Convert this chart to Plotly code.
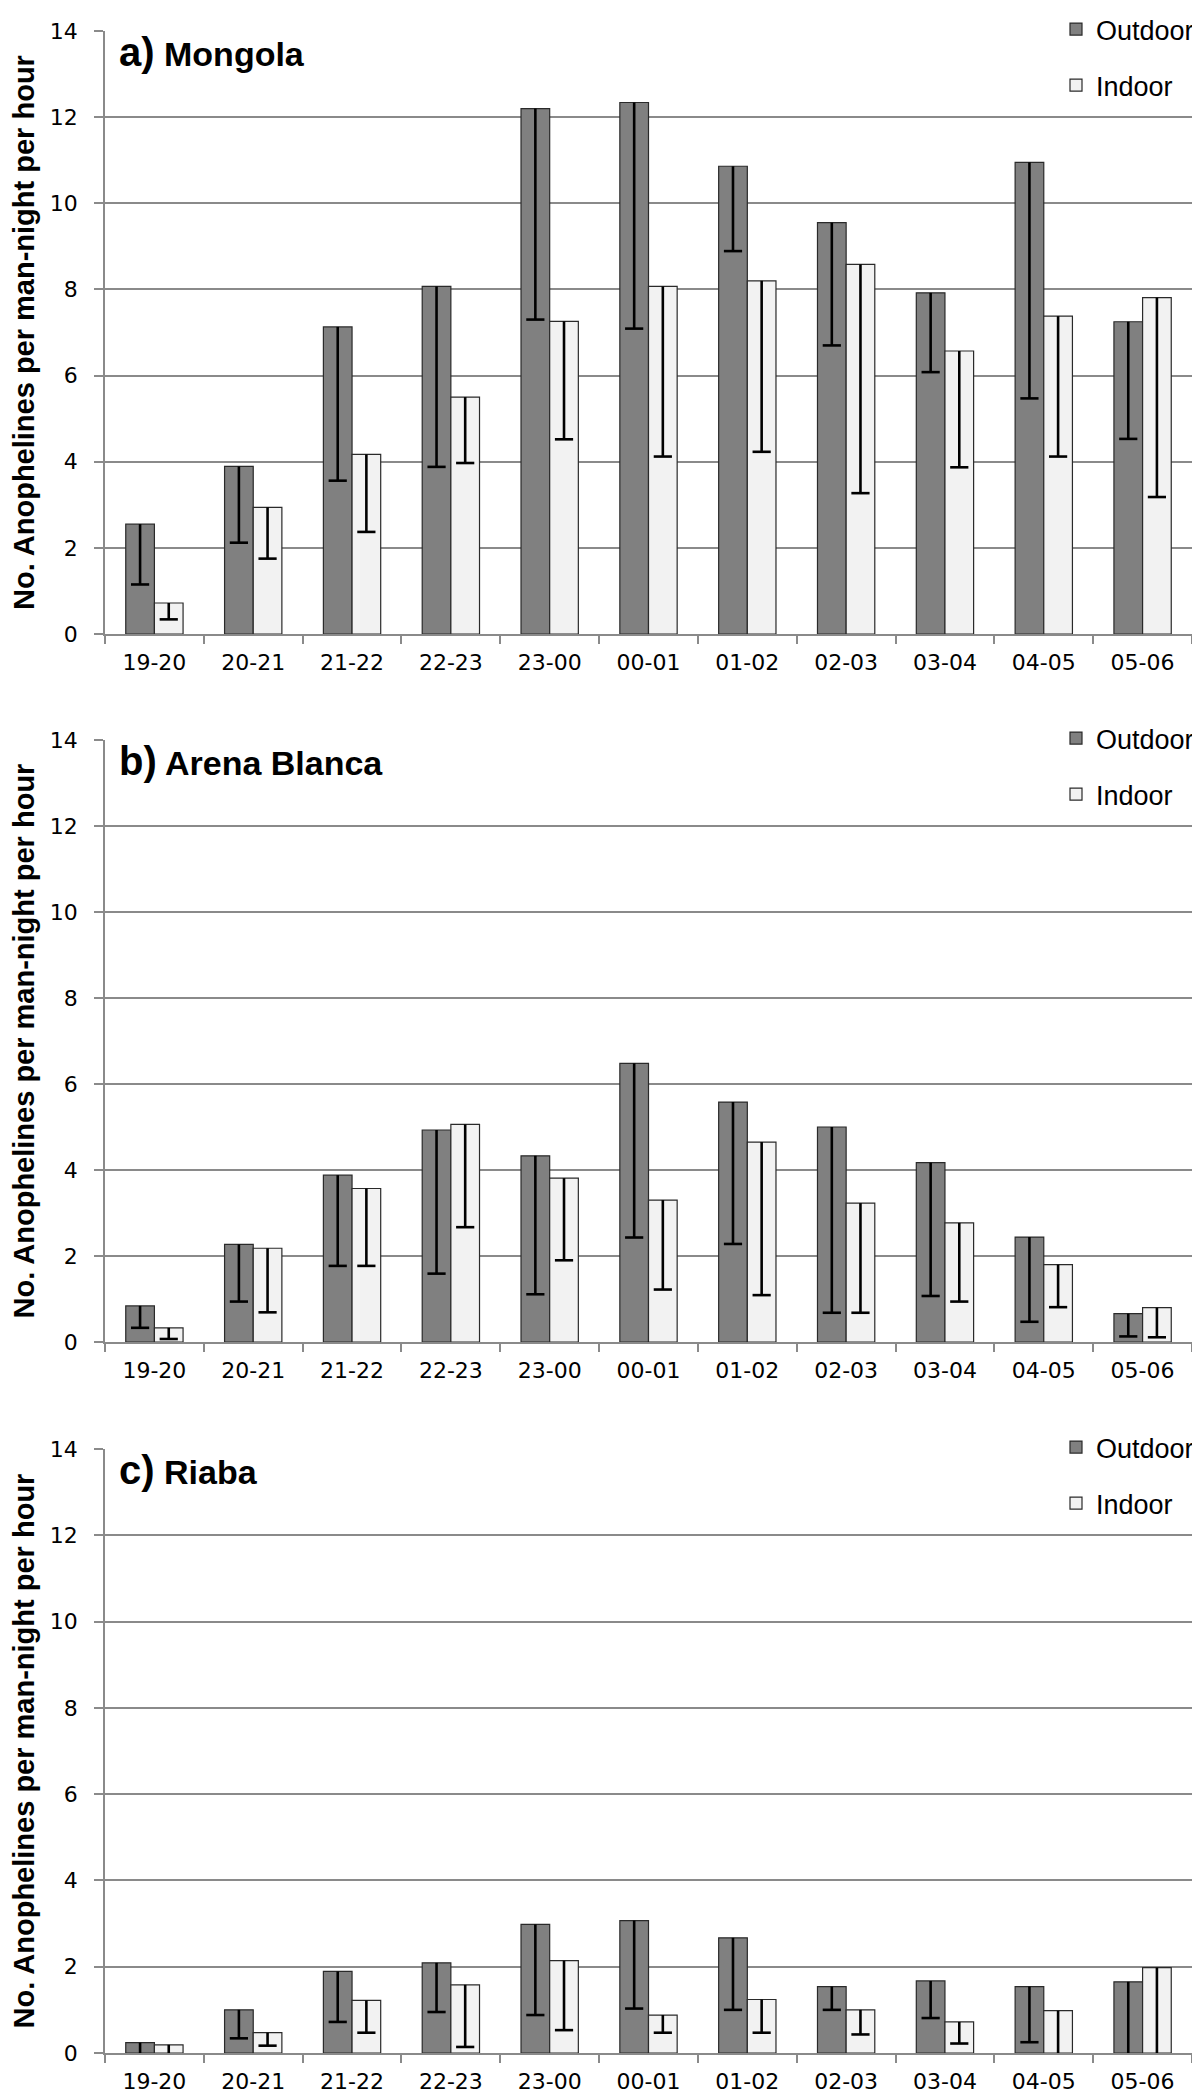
import plotly.graph_objects as go

categories = ["19-20", "20-21", "21-22", "22-23", "23-00", "00-01",
              "01-02", "02-03", "03-04", "04-05", "05-06"]

# Panel a) Mongola
a_outdoor = [2.55, 3.89, 7.13, 8.07, 12.20, 12.34, 10.86, 9.55, 7.92, 10.95, 7.25]
a_outdoor_low = [1.15, 2.12, 3.56, 3.88, 7.30, 7.09, 8.89, 6.70, 6.08, 5.47, 4.53]
a_indoor = [0.72, 2.94, 4.17, 5.50, 7.26, 8.07, 8.20, 8.58, 6.57, 7.38, 7.81]
a_indoor_low = [0.34, 1.75, 2.37, 3.97, 4.52, 4.12, 4.23, 3.27, 3.87, 4.12, 3.18]

# Panel b) Arena Blanca
b_outdoor = [0.84, 2.27, 3.88, 4.93, 4.33, 6.48, 5.58, 5.00, 4.17, 2.44, 0.66]
b_outdoor_low = [0.33, 0.94, 1.77, 1.59, 1.11, 2.43, 2.28, 0.68, 1.07, 0.47, 0.13]
b_indoor = [0.33, 2.18, 3.57, 5.06, 3.81, 3.30, 4.65, 3.23, 2.77, 1.80, 0.80]
b_indoor_low = [0.07, 0.69, 1.77, 2.67, 1.90, 1.22, 1.09, 0.68, 0.94, 0.81, 0.11]

# Panel c) Riaba
c_outdoor = [0.24, 1.00, 1.89, 2.09, 2.98, 3.07, 2.67, 1.54, 1.67, 1.54, 1.65]
c_outdoor_low = [-0.1, 0.34, 0.72, 0.95, 0.88, 1.03, 1.00, 1.00, 0.81, 0.25, -0.3]
c_indoor = [0.19, 0.47, 1.22, 1.58, 2.14, 0.88, 1.24, 1.00, 0.72, 0.98, 1.98]
c_indoor_low = [-0.1, 0.17, 0.47, 0.14, 0.53, 0.47, 0.47, 0.43, 0.22, -0.3, -0.3]

panel_titles = ["a)", "b)", "c)"]
panel_names = ["Mongola", "Arena Blanca", "Riaba"]
series_names = ["Outdoor", "Indoor"]
y_ticks = [0, 2, 4, 6, 8, 10, 12, 14]

FONT = "Liberation Sans, Arial, Helvetica, sans-serif"
TICKFONT = "DejaVu Sans, Liberation Sans, sans-serif"
GRID = "#8a8a8a"
OUT_COLOR = "#808080"
IN_COLOR = "#f2f2f2"
EDGE = "#2a2a2a"
GAP = 0.42

W, H = 1200, 2092
M_L, M_R, M_T, M_B = 97, 16, 23, 47
PH = H - M_T - M_B
PW = W - M_L - M_R

panel_px = [(23, 626), (732, 1334), (1441, 2045)]

def pfrac(ypx):
    return (H - M_B - ypx) / PH

def pxf(xpx):
    return (xpx - M_L) / PW

fig = go.Figure()

data = [
    (a_outdoor, a_outdoor_low, a_indoor, a_indoor_low),
    (b_outdoor, b_outdoor_low, b_indoor, b_indoor_low),
    (c_outdoor, c_outdoor_low, c_indoor, c_indoor_low),
]

layout_axes = {}
legends = {}
annotations = []
for i, (o, ol, ind, il) in enumerate(data):
    sfx = "" if i == 0 else str(i + 1)
    xa, ya = "x" + sfx, "y" + sfx
    leg = "legend" + sfx
    series = [(series_names[0], o, ol, OUT_COLOR),
              (series_names[1], ind, il, IN_COLOR)]
    for name, vals, lows, col in series:
        minus = [v - lo for v, lo in zip(vals, lows)]
        fig.add_trace(go.Bar(
            x=categories, y=vals, name=name,
            marker=dict(color=col, line=dict(color=EDGE, width=1.2)),
            error_y=dict(type="data", symmetric=False,
                         array=[0] * len(vals), arrayminus=minus,
                         color="black", thickness=2.6, width=0),
            xaxis=xa, yaxis=ya, legend=leg,
            legendgroup=f"{leg}_{name}",
        ))
    # bottom caps of the minus-only error bars
    for name, vals, lows, col in series:
        fig.add_trace(go.Scatter(
            x=categories, y=lows, mode="markers", showlegend=False,
            hoverinfo="skip",
            marker=dict(symbol="line-ew", size=13,
                        line=dict(color="black", width=2.6)),
            xaxis=xa, yaxis=ya, legend=leg,
        ))
    top, bot = panel_px[i]
    layout_axes["xaxis" + sfx] = dict(
        domain=[0, 1], anchor=ya, type="category",
        showline=True, linecolor=GRID, linewidth=1.5,
        ticks="outside", tickson="boundaries", ticklen=8,
        tickcolor=GRID, tickwidth=1.5, showgrid=False,
        tickfont=dict(family=TICKFONT, size=22, color="black"),
        ticklabelstandoff=8,
    )
    layout_axes["yaxis" + sfx] = dict(
        domain=[pfrac(bot), pfrac(top)], anchor=xa,
        range=[0, 14], tickvals=y_ticks,
        showline=True, linecolor=GRID, linewidth=1.5,
        ticks="outside", ticklen=9, tickcolor=GRID, tickwidth=1.5,
        showgrid=True, gridcolor=GRID, gridwidth=1.5, zeroline=False,
        tickfont=dict(family=TICKFONT, size=22, color="black"),
        ticklabelstandoff=12,
        title=dict(text="<b>No. Anophelines per man-night per hour</b>",
                   font=dict(family=FONT, size=29, color="black"),
                   standoff=12),
    )
    legends[leg] = dict(
        x=pxf(1048), xanchor="left",
        y=pfrac(top - 26), yanchor="top",
        bgcolor="white", borderwidth=0,
        font=dict(family=FONT, size=27, color="black"),
        tracegroupgap=18, traceorder="grouped",
    )
    annotations.append(dict(
        xref=xa + " domain", yref=ya + " domain",
        x=(109 - M_L) / PW, y=1 - 21 / (bot - top),
        xanchor="left", yanchor="middle", showarrow=False,
        text=f"<b><span style='font-size:40px'>{panel_titles[i]}</span> {panel_names[i]}</b>",
        font=dict(family=FONT, size=34, color="black"),
    ))

fig.update_layout(
    width=W, height=H,
    margin=dict(l=M_L, r=M_R, t=M_T, b=M_B, autoexpand=False),
    paper_bgcolor="white", plot_bgcolor="white",
    barmode="group", bargap=GAP, bargroupgap=0,
    scattermode="group", scattergap=GAP,
    showlegend=True,
    annotations=annotations,
    font=dict(family=FONT),
    **layout_axes, **legends,
)

fig.write_html("out.html")
